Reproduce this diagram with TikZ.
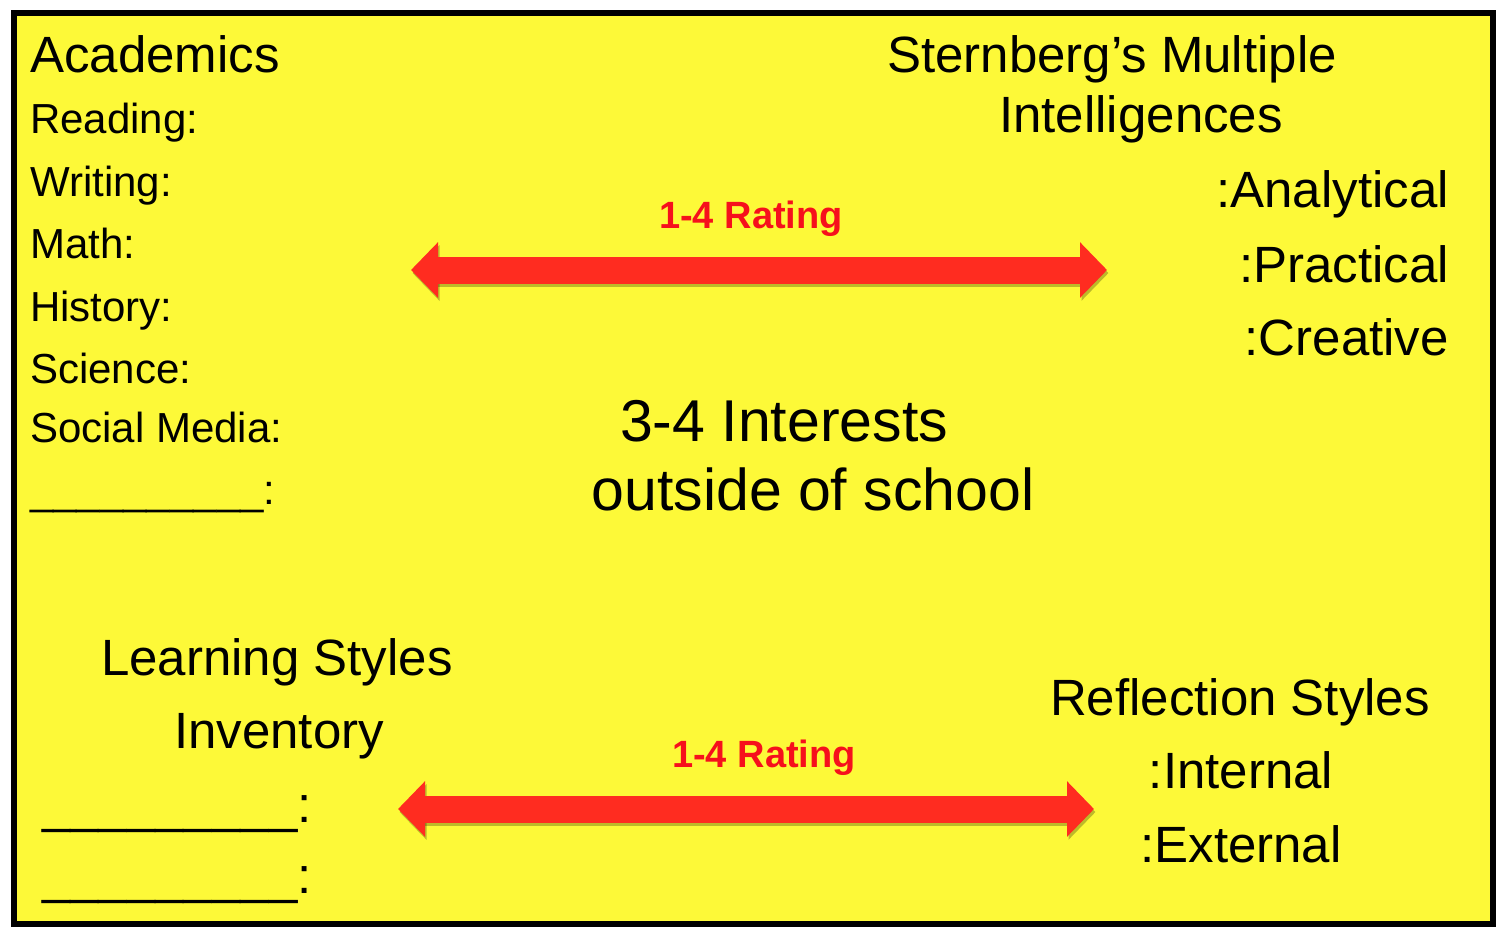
\documentclass[tikz,border=0pt]{standalone}
\usepackage{fontspec}
\setmainfont{Liberation Sans}
\usetikzlibrary{arrows.meta}

\definecolor{cardyellow}{RGB}{253,249,56}
\definecolor{arrowred}{RGB}{255,44,32}
\definecolor{ratingred}{RGB}{246,16,28}

\tikzset{
  heading/.style={inner sep=0pt, font=\fontsize{51}{51}\selectfont},
  subject/.style={inner sep=0pt, anchor=base west, font=\fontsize{42}{42}\selectfont},
  interest/.style={inner sep=0pt, anchor=base, font=\fontsize{59}{59}\selectfont},
  rating/.style={inner sep=0pt, anchor=base, text=ratingred, font=\fontsize{38}{38}\selectfont\bfseries},
  ratingarrow/.style={line width=27pt, draw=arrowred,
    {Triangle[length=27pt,width=54pt]}-{Triangle[length=27pt,width=54pt]}},
  arrowshadow/.style={ratingarrow, draw=black, opacity=0.25,
    transform canvas={xshift=1.5pt, yshift=-3pt}}
}

\begin{document}
\begin{tikzpicture}[x=1pt, y=-1pt]
  \useasboundingbox (0,0) rectangle (1502,938);

  % Card with black frame
  \draw[line width=6pt, fill=cardyellow] (14,13) rectangle (1493,924);

  % Academics column
  \node[heading, anchor=base west] (academics) at (30,72) {Academics};
  \node[subject] (reading) at (30,133) {Reading:};
  \node[subject] (writing) at (30,196) {Writing:};
  \node[subject] (math) at (30,258) {Math:};
  \node[subject] (history) at (30,321) {History:};
  \node[subject] (science) at (30,383) {Science:};
  \node[subject] (social) at (30,442) {Social Media:};
  \node[subject] (blankA) at (30,504) {\_\_\_\_\_\_\_\_\_\_:};

  % Sternberg column
  \node[heading, anchor=base] (sternberg) at (1112,72) {Sternberg’s Multiple};
  \node[heading, anchor=base] (intel) at (1141,132) {Intelligences};
  \node[heading, anchor=base east] (analytical) at (1449,207) {:Analytical};
  \node[heading, anchor=base east] (practical) at (1449,282) {:Practical};
  \node[heading, anchor=base east] (creative) at (1449,355) {:Creative};

  % Top rating arrow
  \coordinate (topL) at (411,270);
  \coordinate (topR) at (1107,270);
  \draw[arrowshadow] (topL) -- (topR);
  \draw[ratingarrow] (topL) -- (topR);
  \node[rating] (ratingTop) at (751,228) {1-4 Rating};

  % Interests in the middle
  \node[interest] (interests) at (784,441) {3-4 Interests};
  \node[interest] (outside) at (813,510) {outside of school};

  % Learning styles column
  \node[heading, anchor=base] (learning) at (277,675) {Learning Styles};
  \node[heading, anchor=base] (inventory) at (279,748) {Inventory};
  \node[heading, anchor=base west] (blankB) at (42,822) {\_\_\_\_\_\_\_\_\_:};
  \node[heading, anchor=base west] (blankC) at (42,893) {\_\_\_\_\_\_\_\_\_:};

  % Reflection styles column
  \node[heading, anchor=base] (reflection) at (1240,715) {Reflection Styles};
  \node[heading, anchor=base] (internal) at (1241,788) {:Internal};
  \node[heading, anchor=base] (external) at (1241,862) {:External};

  % Bottom rating arrow
  \coordinate (botL) at (398,809);
  \coordinate (botR) at (1094,809);
  \draw[arrowshadow] (botL) -- (botR);
  \draw[ratingarrow] (botL) -- (botR);
  \node[rating] (ratingBot) at (764,767) {1-4 Rating};
\end{tikzpicture}
\end{document}
